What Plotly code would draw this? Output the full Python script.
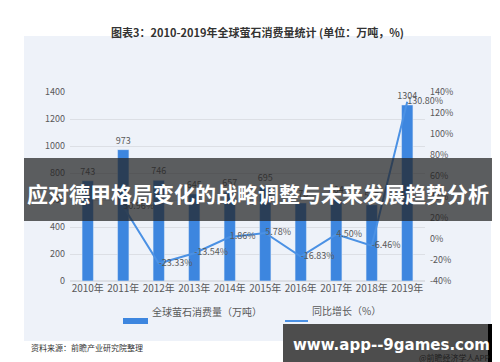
import plotly.graph_objects as go

years = ["2010年", "2011年", "2012年", "2013年", "2014年", "2015年", "2016年", "2017年", "2018年", "2019年"]
consumption = [743, 973, 746, 645, 657, 695, 578, 604, 565, 1304]
growth = [None, 30.96, -23.33, -13.54, 1.86, 5.78, -16.83, 4.50, -6.46, 130.80]
left_ticks = [0, 200, 400, 600, 800, 1000, 1200, 1400]
right_ticks = [-40, -20, 0, 20, 40, 60, 80, 100, 120, 140]

W, H = 500, 362
L, R, T, B = 62, 417, 84, 273

def px(x):
    return (x - L) / (R - L)

def py(y):
    return (B - y) / (B - T)

FONT = "Noto Sans CJK SC"
GRAY = "#595959"
BAR = "#3d86df"
LINE = "#4b91e4"

fig = go.Figure()
fig.add_trace(go.Bar(
    x=years, y=consumption, name="全球萤石消费量（万吨）",
    marker_color=BAR, width=0.32,
    text=[str(v) for v in consumption], textposition="outside", constraintext="none",
    textfont=dict(size=9, color=GRAY, family=FONT), cliponaxis=False,
))
fig.add_trace(go.Scatter(
    x=years, y=growth, name="同比增长（%）", yaxis="y2",
    mode="lines+text", line=dict(color=LINE, width=2),
    text=[("" if g is None else f"{g:.2f}%") for g in growth],
    textposition="middle right",
    textfont=dict(size=9, color=GRAY, family=FONT), cliponaxis=False,
))

shapes = [
    dict(type="rect", xref="paper", yref="paper", x0=px(16), x1=px(483), y0=py(333), y1=py(28),
         fillcolor="#eef2f9", line=dict(width=0), layer="below"),
    dict(type="rect", xref="paper", yref="paper", x0=px(115), x1=px(140), y0=py(316), y1=py(310),
         fillcolor=BAR, line=dict(width=0), layer="above"),
    dict(type="line", xref="paper", yref="paper", x0=px(277), x1=px(300), y0=py(313), y1=py(313),
         line=dict(color=LINE, width=2), layer="above"),
    # banner overlay
    dict(type="rect", xref="paper", yref="paper", x0=px(16), x1=px(488), y0=py(213), y1=py(150),
         fillcolor="rgba(35,35,35,0.72)", line=dict(width=0), layer="above"),
    # watermark box + black strip
    dict(type="rect", xref="paper", yref="paper", x0=px(275), x1=px(480), y0=py(362), y1=py(316),
         fillcolor="#4d4d4d", line=dict(width=0), layer="above"),
    dict(type="rect", xref="paper", yref="paper", x0=px(480), x1=px(485), y0=py(362), y1=py(316),
         fillcolor="#000000", line=dict(width=0), layer="above"),
]

annotations = [
    dict(text="<b>图表3：2010-2019年全球萤石消费量统计 (单位：万吨，%)</b>", xref="paper", yref="paper",
         x=px(249), y=py(14), xanchor="center", showarrow=False,
         font=dict(size=11, color="#333333", family=FONT)),
    dict(text="全球萤石消费量（万吨）", xref="paper", yref="paper", x=px(142), y=py(313),
         xanchor="left", showarrow=False, font=dict(size=10, color=GRAY, family=FONT)),
    dict(text="同比增长（%）", xref="paper", yref="paper", x=px(302), y=py(312),
         xanchor="left", showarrow=False, font=dict(size=10, color=GRAY, family=FONT)),
    dict(text="资料来源：前瞻产业研究院整理", xref="paper", yref="paper", x=px(21), y=py(347),
         xanchor="left", showarrow=False, font=dict(size=8, color="#333333", family=FONT)),
    dict(text="<b>www.app--9games.com</b>", xref="paper", yref="paper",
         x=px(383), y=py(337), xanchor="center", yanchor="middle", showarrow=False,
         font=dict(size=15, color="#ffffff", family="DejaVu Sans")),
    dict(text="@前瞻经济学人APP", xref="paper", yref="paper", x=px(484), y=py(349),
         xanchor="right", yanchor="middle", showarrow=False,
         font=dict(size=8, color="#1e1e1e", family=FONT)),
    dict(text="<b>应对德甲格局变化的战略调整与未来发展趋势分析</b>", xref="paper", yref="paper",
         x=px(250), y=py(185), xanchor="center", yanchor="middle", showarrow=False,
         font=dict(size=21, color="#ffffff", family=FONT)),
]

fig.update_layout(
    width=W, height=H,
    margin=dict(l=L, r=W - R, t=T, b=H - B),
    paper_bgcolor="#ffffff", plot_bgcolor="rgba(0,0,0,0)",
    showlegend=False,
    font=dict(family=FONT, color=GRAY, size=9),
    xaxis=dict(showgrid=False, showline=False, ticks="", tickfont=dict(size=10, color=GRAY)),
    yaxis=dict(range=[0, 1400], tickvals=left_ticks, showgrid=True, gridcolor="#dcdfe5",
               gridwidth=1, zeroline=True, zerolinecolor="#dcdfe5", showline=False,
               tickfont=dict(size=9, color=GRAY), ticklen=0, ticks="", ticklabelstandoff=4),
    yaxis2=dict(range=[-40, 140], tickvals=right_ticks, ticktext=[f"{v}%" for v in right_ticks],
                overlaying="y", side="right", showgrid=False, zeroline=False, showline=False,
                tickfont=dict(size=9, color=GRAY), ticks="", ticklabelstandoff=4),
    shapes=shapes, annotations=annotations,
)

fig.write_html("out.html")
